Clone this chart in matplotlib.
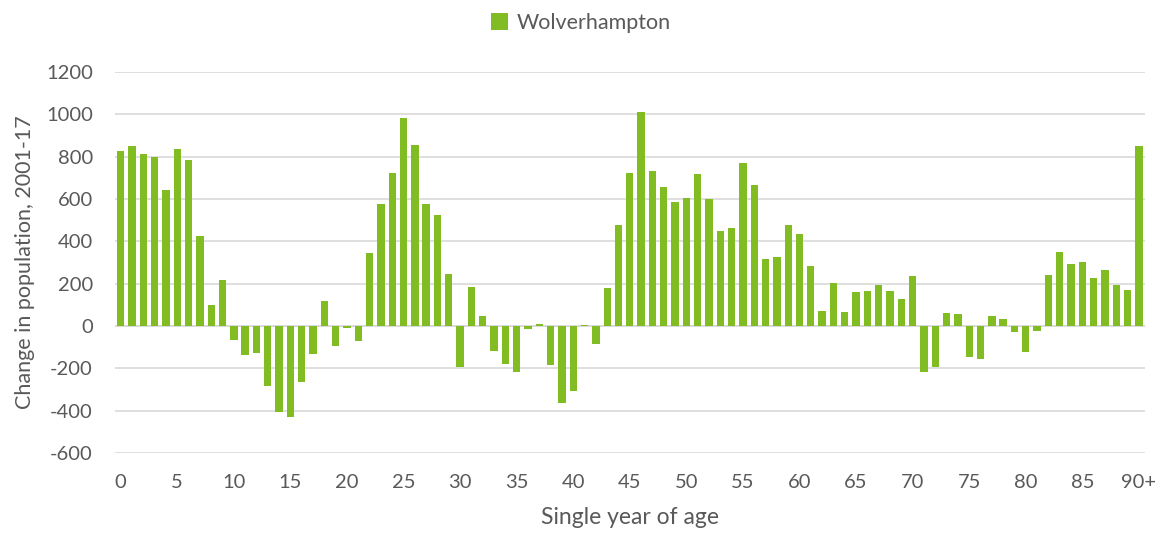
"""Change in population by single year of age, Wolverhampton 2001-17."""

import numpy
from matplotlib import pyplot

ages = [str(a) for a in range(90)] + ['90+']
change = [
    829, 850, 813, 797, 644, 837, 785, 425, 101, 219,
    -68, -137, -128, -284, -407, -428, -265, -131, 117, -95,
    -9, -69, 343, 576, 722, 984, 857, 578, 527, 246,
    -194, 183, 49, -120, -180, -218, -16, 11, -185, -362,
    -308, 4, -87, 178, 478, 725, 1012, 731, 657, 587,
    603, 720, 598, 447, 461, 769, 666, 317, 325, 477,
    434, 286, 69, 202, 66, 159, 164, 194, 166, 128,
    238, -218, -194, 60, 55, -145, -155, 46, 32, -28,
    -123, -22, 243, 351, 291, 303, 229, 264, 196, 169,
    853,
]
tick_labels = [str(a) for a in range(0, 90, 5)] + ['90+']
yticks = list(range(-600, 1201, 200))

green = '#80bc22'
grey = '#595959'

pyplot.rc('font', family=['Lato', 'DejaVu Sans'], size=14.5)

fig = pyplot.figure(figsize=(11.62, 5.38), dpi=100)
ax = fig.add_axes([0.099, 0.158, 0.886, 0.708])

x = numpy.arange(len(ages))
ax.bar(x, change, width=0.65, color=green, label='Wolverhampton', zorder=3)

ax.set_xlim(-0.5, len(ages) - 0.5)
ax.set_ylim(-600, 1200)
ax.set_yticks(yticks)
ax.set_yticklabels([str(v) for v in yticks])
ax.set_xticks(list(range(0, 90, 5)) + [90])
ax.set_xticklabels(tick_labels)

ax.grid(axis='y', color='#d9d9d9', linewidth=1.2, zorder=0)
ax.axhline(0, color='#d9d9d9', linewidth=1.2, zorder=1)
for side in ['top', 'right', 'left', 'bottom']:
    ax.spines[side].set_visible(False)
ax.tick_params(axis='both', length=0, colors=grey, labelsize=14.5)
ax.tick_params(axis='x', pad=15)
ax.tick_params(axis='y', pad=16)

ax.set_xlabel('Single year of age', color=grey, fontsize=16.5, labelpad=12)
ax.set_ylabel('Change in population, 2001-17', color=grey, fontsize=15.5,
              labelpad=8)

fig.legend(loc='upper center', bbox_to_anchor=(0.5, 1.012), frameon=False,
           ncol=1, handlelength=0.8, handleheight=0.8, handletextpad=0.4,
           labelcolor=grey, fontsize=15.5)

fig.savefig('out.png', dpi=100)
